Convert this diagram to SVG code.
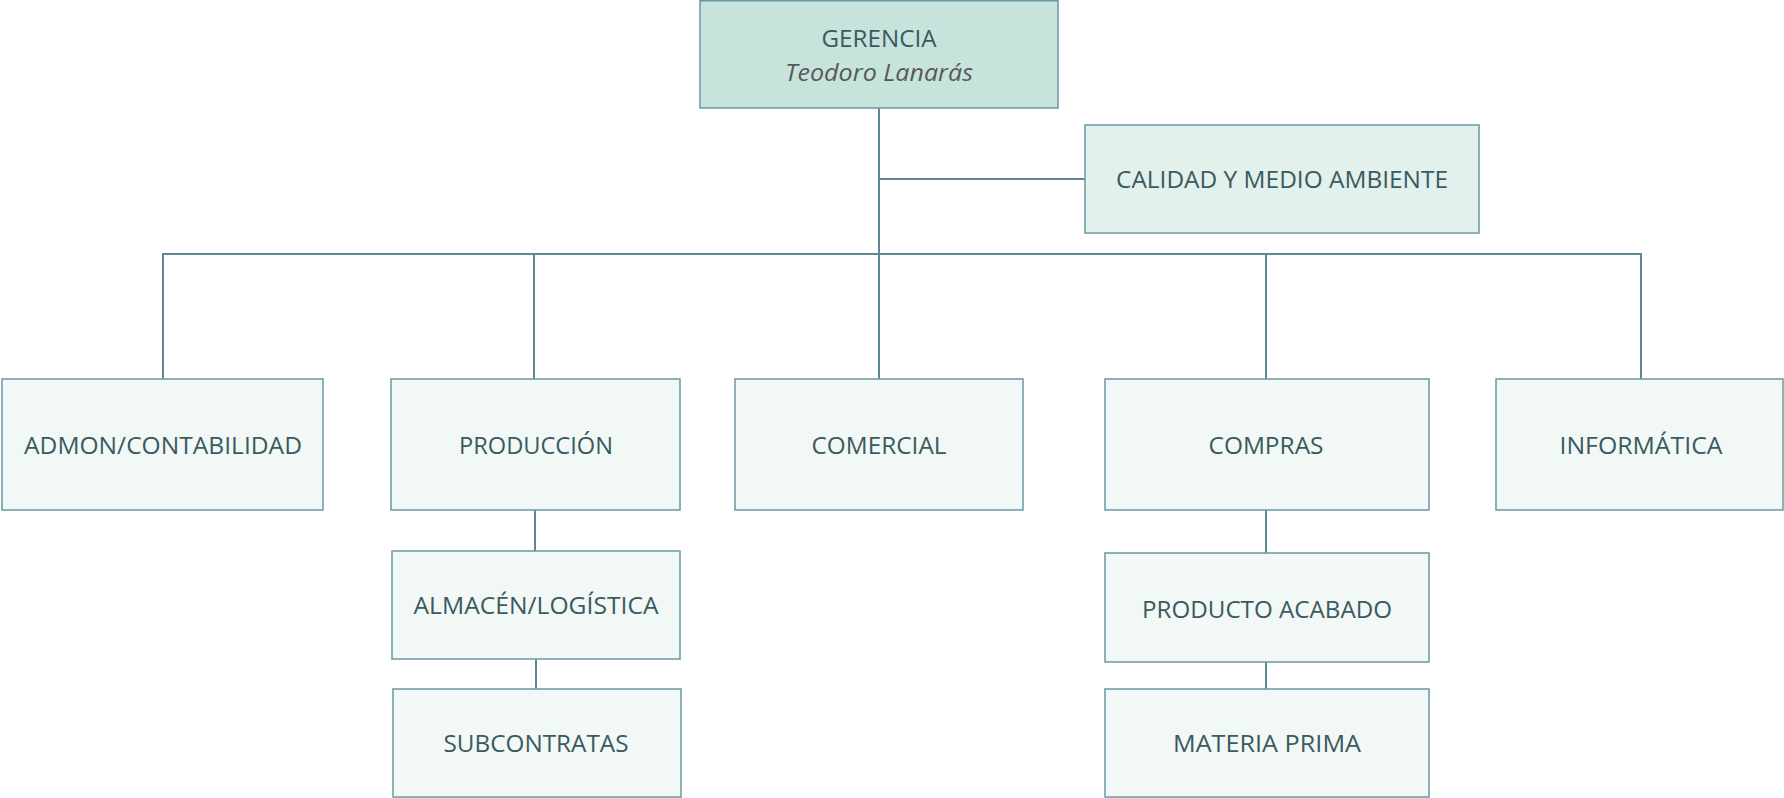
<svg xmlns="http://www.w3.org/2000/svg" width="1784" height="798" viewBox="0 0 1784 798">
<style>
.box{stroke:#6a98a2;stroke-width:1.5;fill:#f2f8f6}
.top{fill:#c6e4db}
.cal{fill:#e2f1ec}
.t{font-family:"Open Sans","Liberation Sans",sans-serif;font-size:23.5px;fill:#3b5a60;text-anchor:middle}
.i{font-style:italic;fill:#595959}
.c{stroke:#5b8a94;stroke-width:2;fill:none}
</style>
<rect width="1784" height="798" fill="#ffffff"/>
<g id="connectors">
<path class="c" d="M879 108V254"/>
<path class="c" d="M879 179H1085"/>
<path class="c" d="M163 379V254H1641V379"/>
<path class="c" d="M534 254V379"/>
<path class="c" d="M879 254V379"/>
<path class="c" d="M1266 254V379"/>
<path class="c" d="M535 510V551"/>
<path class="c" d="M536 659V689"/>
<path class="c" d="M1266 510V553"/>
<path class="c" d="M1266 662V689"/>
</g>
<g id="gerencia">
<rect class="box top" x="700" y="0.75" width="358" height="107.25"/>
<text class="t" x="879" y="47" textLength="115" lengthAdjust="spacingAndGlyphs">GERENCIA</text>
<text class="t i" x="879" y="81" textLength="188" lengthAdjust="spacingAndGlyphs">Teodoro Lanarás</text>
</g>
<g id="calidad">
<rect class="box cal" x="1085" y="125" width="394" height="108"/>
<text class="t" x="1282" y="188" textLength="332" lengthAdjust="spacingAndGlyphs">CALIDAD Y MEDIO AMBIENTE</text>
</g>
<g id="admon">
<rect class="box" x="2" y="379" width="321" height="131"/>
<text class="t" x="163" y="454" textLength="278" lengthAdjust="spacingAndGlyphs">ADMON/CONTABILIDAD</text>
</g>
<g id="produccion">
<rect class="box" x="391" y="379" width="289" height="131"/>
<text class="t" x="536" y="454" textLength="154" lengthAdjust="spacingAndGlyphs">PRODUCCIÓN</text>
</g>
<g id="comercial">
<rect class="box" x="735" y="379" width="288" height="131"/>
<text class="t" x="879" y="454" textLength="135" lengthAdjust="spacingAndGlyphs">COMERCIAL</text>
</g>
<g id="compras">
<rect class="box" x="1105" y="379" width="324" height="131"/>
<text class="t" x="1266" y="454" textLength="115" lengthAdjust="spacingAndGlyphs">COMPRAS</text>
</g>
<g id="informatica">
<rect class="box" x="1496" y="379" width="287" height="131"/>
<text class="t" x="1641" y="454" textLength="163" lengthAdjust="spacingAndGlyphs">INFORMÁTICA</text>
</g>
<g id="almacen">
<rect class="box" x="392" y="551" width="288" height="108"/>
<text class="t" x="536" y="614" textLength="245" lengthAdjust="spacingAndGlyphs">ALMACÉN/LOGÍSTICA</text>
</g>
<g id="subcontratas">
<rect class="box" x="393" y="689" width="288" height="108"/>
<text class="t" x="536" y="752" textLength="185" lengthAdjust="spacingAndGlyphs">SUBCONTRATAS</text>
</g>
<g id="producto">
<rect class="box" x="1105" y="553" width="324" height="109"/>
<text class="t" x="1267" y="618" textLength="250" lengthAdjust="spacingAndGlyphs">PRODUCTO ACABADO</text>
</g>
<g id="materia">
<rect class="box" x="1105" y="689" width="324" height="108"/>
<text class="t" x="1267" y="752" textLength="188" lengthAdjust="spacingAndGlyphs">MATERIA PRIMA</text>
</g>
</svg>
